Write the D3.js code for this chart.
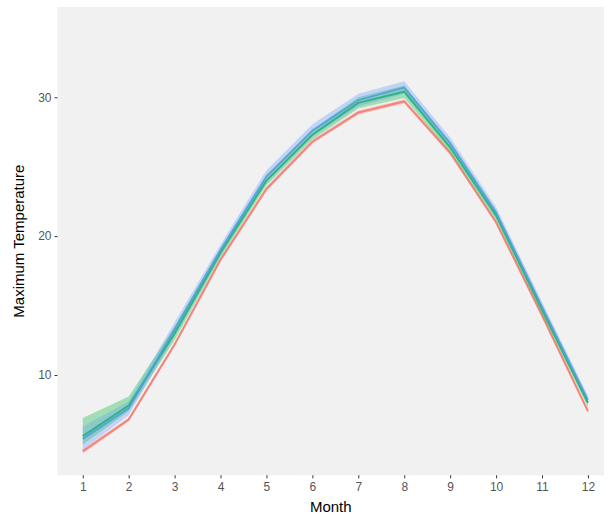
<!DOCTYPE html>
<html>
<head>
<meta charset="utf-8">
<script src="https://cdn.jsdelivr.net/npm/d3@7"></script>
<style>
  body { margin: 0; background: #fff; }
  text { font-family: "Liberation Sans", Arial, sans-serif; }
</style>
</head>
<body>
<svg id="drawing_region"></svg>
<script>
const months = [1, 2, 3, 4, 5, 6, 7, 8, 9, 10, 11, 12];
const yTicks = [10, 20, 30];

const redMean   = [4.5, 6.8, 12.2, 18.3, 23.4, 26.8, 28.9, 29.7, 26.0, 21.0, 14.3, 7.4];
const redLow    = [4.35, 6.65, 12.05, 18.15, 23.25, 26.65, 28.75, 29.55, 25.85, 20.85, 14.15, 7.25];
const redHigh   = [4.65, 6.95, 12.35, 18.45, 23.55, 26.95, 29.05, 29.85, 26.15, 21.15, 14.45, 7.55];

const greenMean = [5.6, 7.8, 13.0, 18.8, 24.0, 27.3, 29.6, 30.4, 26.4, 21.5, 14.7, 8.0];
const greenLow  = [5.0, 7.4, 12.5, 18.45, 23.65, 26.95, 29.2, 29.95, 26.05, 21.15, 14.35, 7.7];
const greenHigh = [6.9, 8.45, 13.5, 19.15, 24.35, 27.65, 30.0, 30.85, 26.75, 21.85, 15.05, 8.3];

const blueMean  = [5.4, 7.6, 13.3, 19.0, 24.3, 27.6, 29.8, 30.7, 26.7, 21.7, 14.9, 8.2];
const blueLow   = [4.6, 7.1, 12.8, 18.6, 23.85, 27.15, 29.35, 30.25, 26.3, 21.3, 14.55, 7.9];
const blueHigh  = [6.3, 8.1, 13.8, 19.4, 24.75, 28.05, 30.25, 31.15, 27.1, 22.1, 15.25, 8.5];

const series = [
    { color: '#F8766D', mean: redMean,   low: redLow,   high: redHigh },
    { color: '#00BA38', mean: greenMean, low: greenLow, high: greenHigh },
    { color: '#619CFF', mean: blueMean,  low: blueLow,  high: blueHigh }
];

const width = 609, height = 523;
const panel = { left: 57.5, right: 604, top: 7, bottom: 475.3 };

const svg = d3.select('#drawing_region')
    .attr('width', width)
    .attr('height', height);

const xscale = d3.scaleLinear()
    .domain([0.45, 12.35])
    .range([panel.left, panel.right]);

const yscale = d3.scaleLinear()
    .domain([2.78, 36.5])
    .range([panel.bottom, panel.top]);

// panel background
svg.append('rect')
    .attr('x', panel.left)
    .attr('y', panel.top)
    .attr('width', panel.right - panel.left)
    .attr('height', panel.bottom - panel.top)
    .attr('fill', '#F1F1F1');

const line = d3.line()
    .x( (d, i) => xscale(months[i]) )
    .y( d => yscale(d) );

const area = d3.area()
    .x( (d, i) => xscale(months[i]) )
    .y0( d => yscale(d[0]) )
    .y1( d => yscale(d[1]) );

// lines first, ribbons drawn over them
series.forEach( s => {
    svg.append('path')
        .attr('d', line(s.mean))
        .attr('fill', 'none')
        .attr('stroke', s.color)
        .attr('stroke-opacity', 0.85)
        .attr('stroke-width', 2);
});

series.forEach( s => {
    svg.append('path')
        .attr('d', area(s.low.map( (v, i) => [v, s.high[i]] )))
        .attr('fill', s.color)
        .attr('fill-opacity', 0.33)
        .attr('stroke', 'none');
});

// axes
const xaxis = d3.axisBottom(xscale)
    .tickValues(months)
    .tickSize(3)
    .tickPadding(4)
    .tickSizeOuter(0);

const yaxis = d3.axisLeft(yscale)
    .tickValues(yTicks)
    .tickSize(3)
    .tickPadding(3)
    .tickSizeOuter(0);

const xg = svg.append('g')
    .attr('transform', `translate(0, ${panel.bottom})`)
    .call(xaxis);

const yg = svg.append('g')
    .attr('transform', `translate(${panel.left}, 0)`)
    .call(yaxis);

[xg, yg].forEach( g => {
    g.select('.domain').remove();
    g.selectAll('.tick line').attr('stroke', '#333').attr('stroke-width', 1);
    g.selectAll('.tick text')
        .attr('fill', '#555')
        .attr('font-size', '12px')
        .style('font-family', '"Liberation Sans", Arial, sans-serif');
});

svg.append('text')
    .attr('x', (panel.left + panel.right) / 2)
    .attr('y', 512)
    .attr('text-anchor', 'middle')
    .attr('font-size', '15px')
    .attr('fill', '#000')
    .text('Month');

svg.append('text')
    .attr('transform', `translate(24, ${(panel.top + panel.bottom) / 2}) rotate(-90)`)
    .attr('text-anchor', 'middle')
    .attr('font-size', '15px')
    .attr('fill', '#000')
    .text('Maximum Temperature');
</script>
</body>
</html>
